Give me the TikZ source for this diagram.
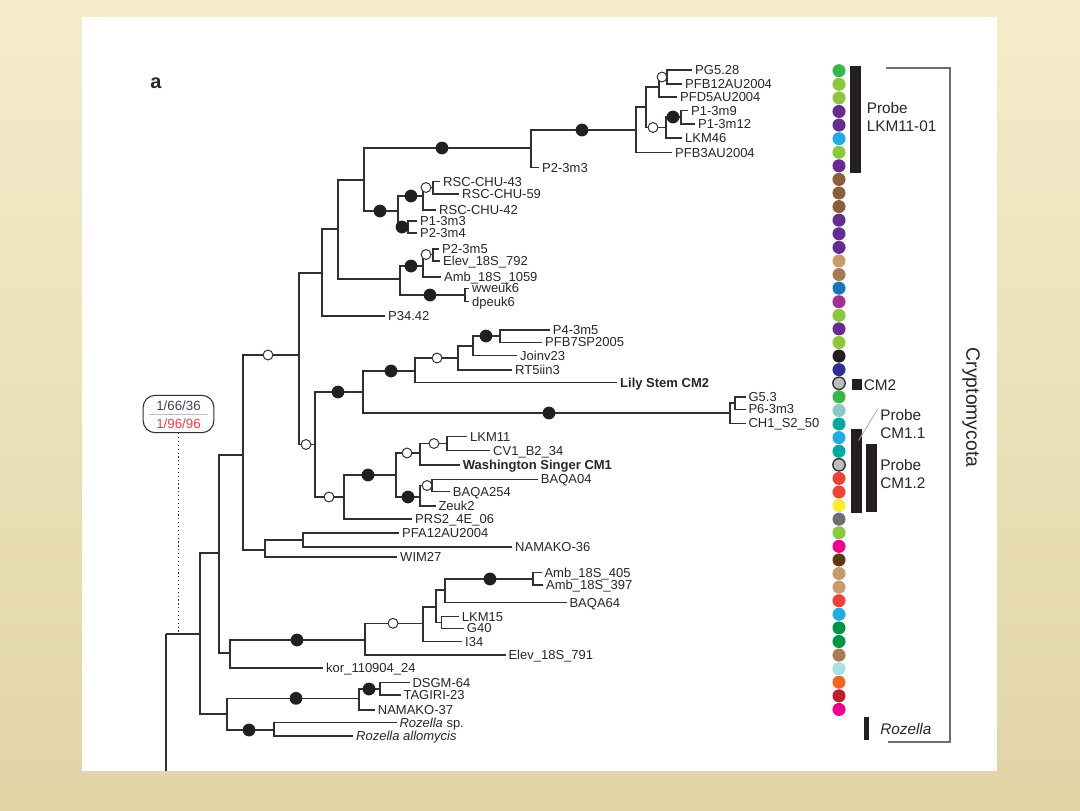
\documentclass[tikz,border=0pt]{standalone}
\usepackage{fontspec}
\setmainfont{Liberation Sans}
\definecolor{linec}{HTML}{303030}
\definecolor{txtc}{HTML}{26262E}
\definecolor{bgtop}{HTML}{F6ECCB}
\definecolor{bgbot}{HTML}{E1D4A7}
\definecolor{brk}{HTML}{6D6E71}
\definecolor{slate}{HTML}{3B4452}
\definecolor{redt}{HTML}{EE3B4A}
\definecolor{cg}{HTML}{39B54A}
\definecolor{clg}{HTML}{8DC63F}
\definecolor{cpu}{HTML}{662D91}
\definecolor{ccy}{HTML}{27AAE1}
\definecolor{cbr}{HTML}{8B5E3C}
\definecolor{ctan}{HTML}{C69C6D}
\definecolor{cbrb}{HTML}{A67C52}
\definecolor{cbl}{HTML}{1C75BC}
\definecolor{cmg}{HTML}{A0318F}
\definecolor{cbk}{HTML}{231F20}
\definecolor{cnv}{HTML}{2E3192}
\definecolor{cgy}{HTML}{BCBEC0}
\definecolor{cltl}{HTML}{8CC8C8}
\definecolor{cteal}{HTML}{00A99D}
\definecolor{cred}{HTML}{EF4136}
\definecolor{cyel}{HTML}{F9ED32}
\definecolor{cdg}{HTML}{6D6E71}
\definecolor{cmag}{HTML}{EC008C}
\definecolor{cdbr}{HTML}{603913}
\definecolor{cgrb}{HTML}{009444}
\definecolor{clcy}{HTML}{ABDEE6}
\definecolor{corg}{HTML}{F26522}
\definecolor{cdred}{HTML}{BE1E2D}
\begin{document}
\begin{tikzpicture}[x=0.75pt,y=-0.75pt,
  br/.style={draw=linec, line width=0.85pt},
  lab/.style={anchor=west, inner xsep=2pt, inner ysep=0pt, text height=7pt, text depth=0pt,
    font=\fontsize{9.75}{11}\selectfont, text=txtc},
  sidelab/.style={anchor=west, inner sep=0pt, align=left, font=\fontsize{11.5}{13.5}\selectfont, text=txtc},
  fdot/.style={circle, fill=cbk, inner sep=0pt, minimum size=9.6pt},
  odot/.style={circle, draw=linec, fill=white, line width=0.75pt, inner sep=0pt, minimum size=7.4pt},
  cdot/.style={circle, inner sep=0pt, minimum size=9.8pt},
  bar/.style={fill=cbk}]
% background
\shade[top color=bgtop, bottom color=bgbot] (0,0) rectangle (1080,810);
\fill[white] (81.5,17) rectangle (997,771);
\useasboundingbox (0,0) rectangle (1080,810);
\node[anchor=base, font=\fontsize{15}{15}\bfseries, text=txtc, inner sep=0pt] (panela) at (156,88) {a};

% leaves
\node[lab] (pg) at (692.3,70) {PG5.28};
\node[lab] (pfb12) at (682.3,84) {PFB12AU2004};
\node[lab] (pfd5) at (677.3,97) {PFD5AU2004};
\node[lab] (p13m9) at (688.3,110.5) {P1-3m9};
\node[lab] (p13m12) at (695.3,124) {P1-3m12};
\node[lab] (lkm46) at (682.3,138) {LKM46};
\node[lab] (pfb3) at (672.3,152.5) {PFB3AU2004};
\node[lab] (p23m3) at (539.3,167.5) {P2-3m3};
\node[lab] (rsc43) at (440.3,181.5) {RSC-CHU-43};
\node[lab] (rsc59) at (459.3,194) {RSC-CHU-59};
\node[lab] (rsc42) at (436.3,210) {RSC-CHU-42};
\node[lab] (p13m3) at (417.3,221) {P1-3m3};
\node[lab] (p23m4) at (417.3,233) {P2-3m4};
\node[lab] (p23m5) at (439.3,249) {P2-3m5};
\node[lab] (elev792) at (440.3,261) {Elev\_18S\_792};
\node[lab] (amb1059) at (441.3,277) {Amb\_18S\_1059};
\node[lab] (wweuk) at (469.3,288.3) {wweuk6};
\node[lab] (dpeuk) at (469.3,301.7) {dpeuk6};
\node[lab] (p3442) at (385.3,316) {P34.42};
\node[lab] (p43m5) at (550,330) {P4-3m5};
\node[lab] (pfb7) at (542.3,342.3) {PFB7SP2005};
\node[lab] (joinv) at (517.3,355.7) {Joinv23};
\node[lab] (rt5) at (512.3,370) {RT5iin3};
\node[lab] (lily) at (617.3,382.7) {\textbf{Lily Stem CM2}};
\node[lab] (g53) at (745.6,397) {G5.3};
\node[lab] (p63m3) at (745.6,409.3) {P6-3m3};
\node[lab] (ch1) at (745.6,423.3) {CH1\_S2\_50};
\node[lab] (lkm11) at (467.3,436.7) {LKM11};
\node[lab] (cv1) at (490.3,450.7) {CV1\_B2\_34};
\node[lab] (wash) at (460,465) {\textbf{Washington Singer CM1}};
\node[lab] (baqa04) at (538,479.3) {BAQA04};
\node[lab] (baqa254) at (450,491.7) {BAQA254};
\node[lab] (zeuk) at (435.6,506) {Zeuk2};
\node[lab] (prs2) at (412.3,519) {PRS2\_4E\_06};
\node[lab] (pfa12) at (399.3,533) {PFA12AU2004};
\node[lab] (nam36) at (512.3,547) {NAMAKO-36};
\node[lab] (wim) at (397.3,557) {WIM27};
\node[lab] (amb405) at (541.6,572.7) {Amb\_18S\_405};
\node[lab] (amb397) at (543.3,585) {Amb\_18S\_397};
\node[lab] (baqa64) at (566.6,602.7) {BAQA64};
\node[lab] (lkm15) at (459,616.7) {LKM15};
\node[lab] (g40) at (464,628.3) {G40};
\node[lab] (i34) at (462.3,641.7) {I34};
\node[lab] (elev791) at (505.6,655) {Elev\_18S\_791};
\node[lab] (kor) at (323.3,668) {kor\_110904\_24};
\node[lab] (dsgm) at (409.6,682.7) {DSGM-64};
\node[lab] (tagiri) at (400.6,695) {TAGIRI-23};
\node[lab] (nam37) at (375,710) {NAMAKO-37};
\node[lab] (rozsp) at (396.6,722.7) {\textit{Rozella} sp.};
\node[lab] (rozall) at (353.3,736) {\textit{Rozella allomycis}};

% internal nodes
\coordinate (A) at (667,77);
\coordinate (B) at (659,87);
\coordinate (C) at (681,117);
\coordinate (D) at (666,127.5);
\coordinate (E) at (646,107);
\coordinate (F) at (636,130);
\coordinate (G) at (531,148);
\coordinate (L) at (433,187.5);
\coordinate (J) at (423,196);
\coordinate (K) at (408,227);
\coordinate (I) at (398,211);
\coordinate (H) at (364,180);
\coordinate (V) at (433,254.5);
\coordinate (U) at (423,266);
\coordinate (W) at (465,295);
\coordinate (M) at (400,279);
\coordinate (HM) at (338,229);
\coordinate (N) at (322,273);
\coordinate (AB) at (500,336);
\coordinate (AA) at (473,346);
\coordinate (Z) at (458,358);
\coordinate (Y) at (415,371);
\coordinate (CHa) at (735,403);
\coordinate (CH) at (730,413);
\coordinate (X) at (363,392);
\coordinate (AF) at (447,443.5);
\coordinate (AE) at (420,453);
\coordinate (AH) at (432,485.5);
\coordinate (AG) at (420,497);
\coordinate (AD) at (396,475);
\coordinate (AC) at (344,497);
\coordinate (T) at (315,444.5);
\coordinate (S) at (299,355);
\coordinate (PF) at (303,540);
\coordinate (PW) at (265,550);
\coordinate (P) at (243,455);
\coordinate (AN) at (533,579);
\coordinate (AM) at (445,590);
\coordinate (AO) at (441.7,622.5);
\coordinate (AL) at (436,607);
\coordinate (AK) at (423,623.3);
\coordinate (AJ) at (365,640);
\coordinate (AI) at (230,653);
\coordinate (Q) at (219,553);
\coordinate (AR) at (380,689);
\coordinate (AQ) at (359,698.3);
\coordinate (AS) at (274,730);
\coordinate (AP) at (227,714);
\coordinate (R) at (200,634);
\coordinate (root) at (166,634);
\coordinate (rootbot) at (166,771);

% branches
\foreach \p/\c in {A/pg.west, A/pfb12.west, B/A, B/pfd5.west, C/p13m9.west, C/p13m12.west,
  D/C, D/lkm46.west, E/B, E/D, F/E, F/pfb3.west, G/F, G/p23m3.west,
  L/rsc43.west, L/rsc59.west, J/L, J/rsc42.west, K/p13m3.west, K/p23m4.west, I/J, I/K, H/G, H/I,
  V/p23m5.west, V/elev792.west, U/V, U/amb1059.west, W/wweuk.west, W/dpeuk.west, M/U, M/W,
  HM/H, HM/M, N/HM, N/p3442.west,
  AB/p43m5.west, AB/pfb7.west, AA/AB, AA/joinv.west, Z/AA, Z/rt5.west, Y/Z, Y/lily.west,
  CHa/g53.west, CHa/p63m3.west, CH/CHa, CH/ch1.west, X/Y, X/CH,
  AF/lkm11.west, AF/cv1.west, AE/AF, AE/wash.west, AH/baqa04.west, AH/baqa254.west,
  AG/AH, AG/zeuk.west, AD/AE, AD/AG, AC/AD, AC/prs2.west, T/X, T/AC, S/N, S/T,
  PF/pfa12.west, PF/nam36.west, PW/PF, PW/wim.west, P/S, P/PW,
  AN/amb405.west, AN/amb397.west, AM/AN, AM/baqa64.west, AO/lkm15.west, AO/g40.west,
  AL/AM, AL/AO, AK/AL, AK/i34.west, AJ/AK, AJ/elev791.west, AI/AJ, AI/kor.west, Q/P, Q/AI,
  AR/dsgm.west, AR/tagiri.west, AQ/AR, AQ/nam37.west, AS/rozsp.west, AS/rozall.west,
  AP/AQ, AP/AS, R/Q, R/AP, root/R}
  \draw[br] (\p) |- (\c);
\draw[br] (rootbot) -- (root);

% support circles
\foreach \x/\y [count=\i] in {662/77, 653/127.5, 426/187.5, 426/254.5, 437/358, 268/355, 306/444.5,
  329/497, 407/453, 434/443.5, 427/485.5, 393/623.3}
  \node[odot] (o\i) at (\x,\y) {};
\foreach \x/\y [count=\i] in {673/117, 582/130, 442/148, 380/211, 411/196, 402/227, 411/266, 430/295,
  338/392, 391/371, 486/336, 549/413, 368/475, 408/497, 297/640, 490/579, 296/698.3, 369/689, 249/730}
  \node[fdot] (f\i) at (\x,\y) {};

% support box
\node[draw=linec, line width=0.8pt, rounded corners=9pt, minimum width=53pt, minimum height=28pt, inner sep=0pt] (box) at (178.5,414) {};
\draw[gray!50, line width=0.6pt] (149,414.5) -- (208,414.5);
\node[font=\fontsize{10}{11}\selectfont, text=slate, inner sep=0pt] (s1) at (178.5,405.5) {1/66/36};
\node[font=\fontsize{10}{11}\selectfont, text=redt, inner sep=0pt] (s2) at (178.5,423.5) {1/96/96};
\draw[linec, dotted, line width=0.9pt] (box.south) -- (box.south |- root);

% coloured dots
\foreach \c [count=\k] in {cg,clg,clg,cpu,cpu,ccy,clg,cpu,cbr,cbr,cbr,cpu,cpu,cpu,ctan,cbrb,cbl,cmg,clg,cpu,
  clg,cbk,cnv,cgy,cg,cltl,cteal,ccy,cteal,cgy,cred,cred,cyel,cdg,clg,cmag,cdbr,ctan,ctan,cred,
  ccy,cgrb,cgrb,cbrb,clcy,corg,cdred,cmag}
  \node[cdot, fill=\c] (dot\k) at (839,{70.7+(\k-1)*13.59}) {};
\draw[linec, line width=1pt] (dot24) circle[radius=6.2];
\draw[linec, line width=1pt] (dot30) circle[radius=6.2];

% bars and labels
\fill[bar] (850,65.7) rectangle (861,173.3);
\node[sidelab] (plkm) at (866.5,117) {Probe\\LKM11-01};
\fill[bar] (851.7,379) rectangle (861.7,390);
\node[sidelab] (pcm2) at (863.5,385) {CM2};
\fill[bar] (851,429.3) rectangle (861.7,513.3);
\fill[bar] (866,444.3) rectangle (877.3,512.3);
\draw[gray!70, line width=0.6pt] (858.5,440.5) -- (878,408.5);
\node[sidelab] (pcm11) at (880,424.5) {Probe\\CM1.1};
\node[sidelab] (pcm12) at (880,474.5) {Probe\\CM1.2};
\fill[bar] (864.3,716.7) rectangle (869,740);
\node[sidelab] (roz) at (880,729.5) {\textit{Rozella}};
\draw[brk, line width=1.5pt] (886,68.3) -- (950,68.3) -- (950,741.7) -- (888,741.7);
\node[rotate=-90, font=\fontsize{14.5}{15}\selectfont, text=txtc, inner sep=0pt] (crypto) at (971,407.5) {Cryptomycota};
\end{tikzpicture}
\end{document}
